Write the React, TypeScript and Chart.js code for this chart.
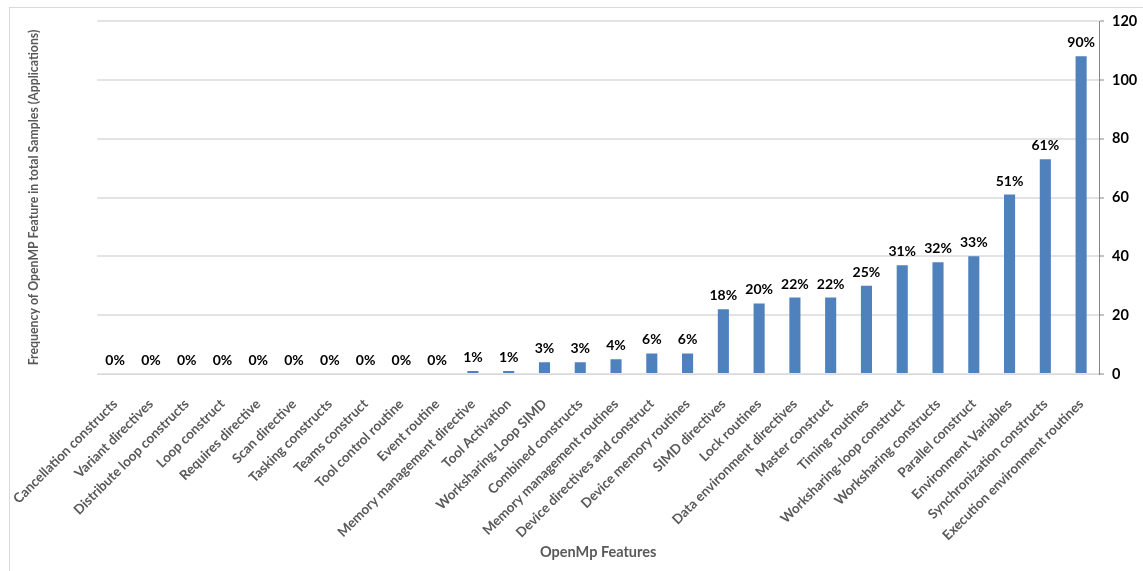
import { useEffect, useRef } from "react";
import { Chart, registerables } from "chart.js";

Chart.register(...registerables);

// OpenMP features, ordered by how many applications use them
const features = [
  "Cancellation constructs",
  "Variant directives",
  "Distribute loop constructs",
  "Loop construct",
  "Requires directive",
  "Scan directive",
  "Tasking constructs",
  "Teams construct",
  "Tool control routine",
  "Event routine",
  "Memory management directive",
  "Tool Activation",
  "Worksharing-Loop SIMD",
  "Combined constructs",
  "Memory management routines",
  "Device directives and construct",
  "Device memory routines",
  "SIMD directives",
  "Lock routines",
  "Data environment directives",
  "Master construct",
  "Timing routines",
  "Worksharing-loop construct",
  "Worksharing constructs",
  "Parallel construct",
  "Environment Variables",
  "Synchronization constructs",
  "Execution environment routines",
];

// Number of applications using each feature
const applications = [
  0, 0, 0, 0, 0, 0, 0, 0, 0, 0, 1, 1, 4, 4, 5, 7, 7, 22, 24, 26, 26, 30, 37, 38,
  40, 61, 73, 108,
];

// Size of the whole sample; each bar's label is its share of it
const TOTAL_SAMPLES = 120;

const Y_MAX = 120;
const Y_STEP = 20;

const FONT = "Lato, 'Open Sans', sans-serif";
const AXIS_GREY = "#595959";

const percentLabels = applications.map(
  (v) => `${Math.round((v / TOTAL_SAMPLES) * 100)}%`
);

const barLabelPlugin = {
  id: "barLabels",
  afterDatasetsDraw(chart: any) {
    const ctx = chart.ctx;
    const meta = chart.getDatasetMeta(0);
    ctx.save();
    ctx.font = `bold 14px ${FONT}`;
    ctx.fillStyle = "#000000";
    ctx.textAlign = "center";
    ctx.textBaseline = "alphabetic";
    meta.data.forEach((bar: any, i: number) => {
      ctx.fillText(percentLabels[i], bar.x, bar.y - 9);
    });
    ctx.restore();
  },
};

export default function App() {
  const canvasRef = useRef<HTMLCanvasElement | null>(null);

  useEffect(() => {
    if (!canvasRef.current) return;
    const chart = new Chart(canvasRef.current, {
      type: "bar",
      data: {
        labels: features,
        datasets: [
          {
            data: applications,
            backgroundColor: "#4F81BD",
            borderWidth: 0,
            barPercentage: 0.31,
            categoryPercentage: 1,
            yAxisID: "y",
          },
        ],
      },
      options: {
        responsive: false,
        animation: false,
        maintainAspectRatio: false,
        layout: { padding: { top: 21, right: 5, bottom: 6, left: 22 } },
        plugins: {
          legend: { display: false },
          tooltip: { enabled: false },
        },
        scales: {
          x: {
            grid: { display: false },
            border: { display: true, color: "#d9d9d9", width: 1 },
            ticks: {
              autoSkip: false,
              maxRotation: 45,
              minRotation: 45,
              padding: 14,
              color: AXIS_GREY,
              font: { family: FONT, size: 13.5, weight: "bold" },
            },
            title: {
              display: true,
              text: "OpenMp Features",
              color: AXIS_GREY,
              font: { family: FONT, size: 14.5, weight: "bold" },
              padding: { top: 4, bottom: 4 },
            },
            afterFit(scale: any) {
              scale.height = 571 - 6 - 374;
            },
          },
          yTitle: {
            type: "linear",
            position: "left",
            min: 0,
            max: Y_MAX,
            grid: { display: false },
            border: { display: false },
            ticks: { display: false },
            title: {
              display: true,
              text: "Frequency of OpenMP Feature in total Samples (Applications)",
              color: AXIS_GREY,
              font: { family: FONT, size: 12.3, weight: "bold" },
              padding: { top: 4, bottom: 4 },
            },
            afterFit(scale: any) {
              scale.width = 75;
            },
          },
          y: {
            type: "linear",
            position: "right",
            min: 0,
            max: Y_MAX,
            grid: {
              color: "#e3e3e3",
              lineWidth: 2,
              tickColor: "#868686",
              tickLength: 5,
              tickWidth: 1,
            },
            border: { display: true, color: "#868686", width: 1 },
            ticks: {
              stepSize: Y_STEP,
              padding: 8,
              color: "#000000",
              font: { family: FONT, size: 14.5, weight: "bold" },
            },
            afterFit(scale: any) {
              scale.width = 39;
            },
          },
        },
      },
      plugins: [barLabelPlugin],
    });
    return () => chart.destroy();
  }, []);

  return (
    <div
      style={{
        position: "fixed",
        left: 0,
        top: 0,
        width: 1143,
        height: 571,
        overflow: "hidden",
        background: "#ffffff",
      }}
    >
      <div
        style={{
          position: "absolute",
          left: 9,
          top: 7,
          width: 1200,
          height: 620,
          border: "1px solid #d9d9d9",
          boxSizing: "border-box",
        }}
      />
      <canvas
        ref={canvasRef}
        width={1143}
        height={571}
        style={{ position: "absolute", left: 0, top: 0, width: 1143, height: 571 }}
      />
    </div>
  );
}
